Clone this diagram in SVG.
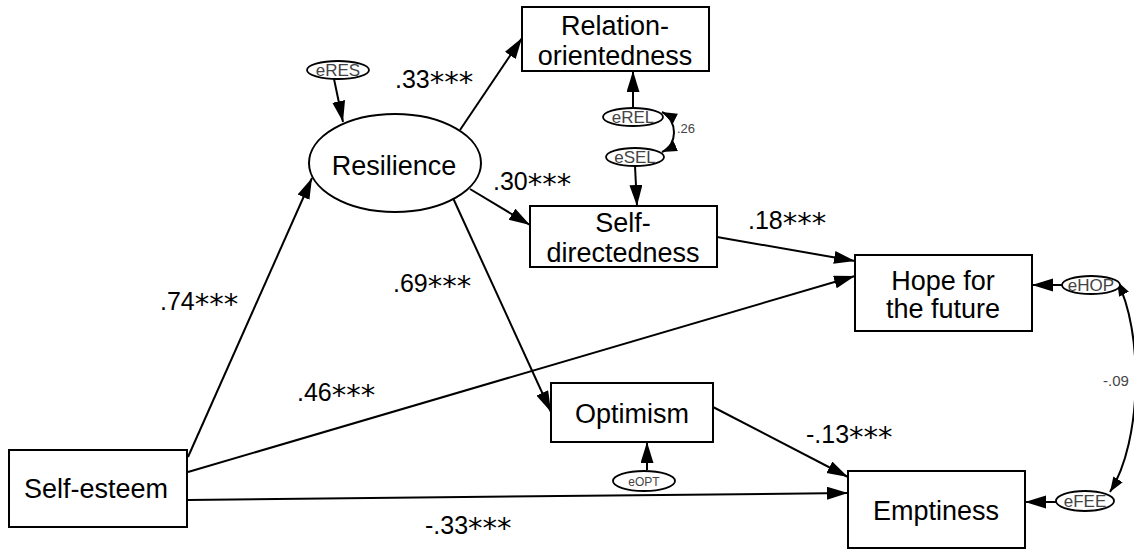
<svg xmlns="http://www.w3.org/2000/svg" width="1134" height="552" viewBox="0 0 1134 552">
<style>
.box{fill:#fff;stroke:#000;stroke-width:2}
.ell{fill:#fff;stroke:#000;stroke-width:2}
.err{fill:#fff;stroke:#000;stroke-width:1.8}
.nt{font-family:"Liberation Sans",Arial,sans-serif;font-size:27px;fill:#000;text-anchor:middle}
.et{font-family:"Liberation Sans",Arial,sans-serif;font-size:17px;fill:#444;text-anchor:middle}
.lbl{font-family:"Liberation Sans",Arial,sans-serif;font-size:25px;fill:#000}
.ast{font-family:"DejaVu Sans",sans-serif;font-size:29px}
.cl{font-family:"Liberation Sans",Arial,sans-serif;font-size:13px;fill:#444}
.ln{fill:none;stroke:#000;stroke-width:2}
</style>
<defs>
<marker id="ah" markerUnits="userSpaceOnUse" markerWidth="22" markerHeight="14" refX="21" refY="6.5" orient="auto">
<path d="M0,0 L21,6.5 L0,13 z" fill="#000"/>
</marker>
<marker id="ahs" markerUnits="userSpaceOnUse" markerWidth="16" markerHeight="12" refX="15" refY="5.5" orient="auto-start-reverse">
<path d="M0,0 L15,5.5 L0,11 z" fill="#000"/>
</marker>
</defs>
<rect width="1134" height="552" fill="#fff"/>
<g id="connectors">
<line class="ln" x1="334" y1="79" x2="343" y2="122" marker-end="url(#ah)"/>
<line class="ln" x1="460" y1="130" x2="522" y2="38" marker-end="url(#ah)"/>
<line class="ln" x1="470" y1="189" x2="530" y2="225" marker-end="url(#ah)"/>
<line class="ln" x1="453" y1="198" x2="551" y2="412" marker-end="url(#ah)"/>
<line class="ln" x1="188" y1="457" x2="312" y2="178" marker-end="url(#ah)"/>
<line class="ln" x1="188" y1="472" x2="855" y2="276" marker-end="url(#ah)"/>
<line class="ln" x1="188" y1="500" x2="848" y2="493" marker-end="url(#ah)"/>
<line class="ln" x1="717" y1="237" x2="855" y2="261" marker-end="url(#ah)"/>
<line class="ln" x1="713" y1="407" x2="848" y2="477" marker-end="url(#ah)"/>
<line class="ln" x1="633" y1="108" x2="633" y2="71" marker-end="url(#ah)"/>
<line class="ln" x1="635" y1="166" x2="637" y2="206" marker-end="url(#ah)"/>
<line class="ln" x1="647" y1="470" x2="647" y2="442" marker-end="url(#ah)"/>
<line class="ln" x1="1062" y1="285" x2="1032" y2="285" marker-end="url(#ah)"/>
<line class="ln" x1="1056" y1="502" x2="1025" y2="502" marker-end="url(#ah)"/>
<path class="ln" d="M662,112 C678,120 678,145 662,152" marker-start="url(#ahs)" marker-end="url(#ahs)"/>
<path class="ln" d="M1117,281 C1143,330 1143,440 1110,492" marker-start="url(#ahs)" marker-end="url(#ahs)"/>
</g>
<g id="labels">
<text class="lbl" x="395" y="88">.33<tspan class="ast" dy="4">***</tspan></text>
<text class="lbl" x="493" y="190">.30<tspan class="ast" dy="4">***</tspan></text>
<text class="lbl" x="748" y="229">.18<tspan class="ast" dy="4">***</tspan></text>
<text class="lbl" x="393" y="292">.69<tspan class="ast" dy="4">***</tspan></text>
<text class="lbl" x="160" y="310">.74<tspan class="ast" dy="4">***</tspan></text>
<text class="lbl" x="297" y="401">.46<tspan class="ast" dy="4">***</tspan></text>
<text class="lbl" x="806" y="443">-.13<tspan class="ast" dy="4">***</tspan></text>
<text class="lbl" x="425" y="534">-.33<tspan class="ast" dy="4">***</tspan></text>
<text class="cl" x="677" y="133">.26</text>
<text class="cl" x="1103" y="386" style="font-size:15px">-.09</text>
</g>
<g id="eRES"><ellipse class="err" cx="338" cy="70" rx="31" ry="9"/><text class="et" x="338" y="76">eRES</text></g>
<g id="Resilience"><ellipse class="ell" cx="395" cy="163" rx="86" ry="49"/><text class="nt" x="394" y="175">Resilience</text></g>
<g id="Relation"><rect class="box" x="522" y="7" width="187" height="64"/><text class="nt" x="615" y="35">Relation-</text><text class="nt" x="615" y="65">orientedness</text></g>
<g id="eREL"><ellipse class="err" cx="633" cy="117" rx="30" ry="9"/><text class="et" x="633" y="123">eREL</text></g>
<g id="eSEL"><ellipse class="err" cx="635" cy="157" rx="29" ry="9"/><text class="et" x="635" y="163">eSEL</text></g>
<g id="SelfDirectedness"><rect class="box" x="530" y="206" width="187" height="61"/><text class="nt" x="623" y="232">Self-</text><text class="nt" x="623" y="262">directedness</text></g>
<g id="Hope"><rect class="box" x="855" y="255" width="177" height="76"/><text class="nt" x="943" y="290">Hope for</text><text class="nt" x="943" y="318">the future</text></g>
<g id="eHOP"><ellipse class="err" cx="1091" cy="285" rx="29" ry="9"/><text class="et" x="1091" y="291">eHOP</text></g>
<g id="Optimism"><rect class="box" x="551" y="383" width="162" height="59"/><text class="nt" x="632" y="423">Optimism</text></g>
<g id="eOPT"><ellipse class="err" cx="644" cy="481" rx="31" ry="10"/><text class="et" x="644" y="485.5" style="font-size:12px">eOPT</text></g>
<g id="Emptiness"><rect class="box" x="848" y="471" width="177" height="77"/><text class="nt" x="936" y="520">Emptiness</text></g>
<g id="eFEE"><ellipse class="err" cx="1085" cy="501" rx="29" ry="10"/><text class="et" x="1085" y="507">eFEE</text></g>
<g id="SelfEsteem"><rect class="box" x="9" y="450" width="178" height="77"/><text class="nt" x="96" y="498">Self-esteem</text></g>
</svg>
